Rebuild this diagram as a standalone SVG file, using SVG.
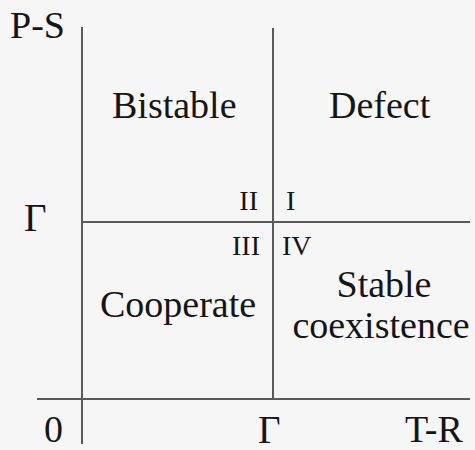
<svg xmlns="http://www.w3.org/2000/svg" width="475" height="450" viewBox="0 0 475 450">
<style>
.ax{stroke:#5a5a5a;stroke-width:2;fill:none}
.t{font-family:'Liberation Serif','Times New Roman',serif;fill:#151515}
.big{font-size:38px}
.num{font-size:28px}
.gam{font-size:39px}
</style>
<rect x="0" y="0" width="475" height="450" fill="#f6f6f6"/>
<g id="connectors">
<line class="ax" x1="82" y1="27" x2="82" y2="444"/>
<line class="ax" x1="273" y1="28" x2="273" y2="399"/>
<line class="ax" x1="37" y1="399" x2="470" y2="399"/>
<line class="ax" x1="82" y1="222" x2="470" y2="222"/>
</g>
<g id="axis-labels" class="t">
<text class="big" x="10" y="38">P-S</text>
<text class="gam" x="24" y="231">Γ</text>
<text class="big" x="44" y="442">0</text>
<text class="gam" x="258" y="443">Γ</text>
<text class="big" x="405" y="442">T-R</text>
</g>
<g id="bistable" class="t"><text class="big" x="112" y="118">Bistable</text></g>
<g id="defect" class="t"><text class="big" x="329" y="118">Defect</text></g>
<g id="cooperate" class="t"><text class="big" x="100" y="317">Cooperate</text></g>
<g id="stable" class="t"><text class="big" x="384" y="297" text-anchor="middle">Stable</text><text class="big" x="381" y="338" text-anchor="middle">coexistence</text></g>
<g id="quadrants" class="t">
<text class="num" x="258" y="210" text-anchor="end">II</text>
<text class="num" x="286" y="210">I</text>
<text class="num" x="260" y="255" text-anchor="end">III</text>
<text class="num" x="282" y="255">IV</text>
</g>
</svg>
